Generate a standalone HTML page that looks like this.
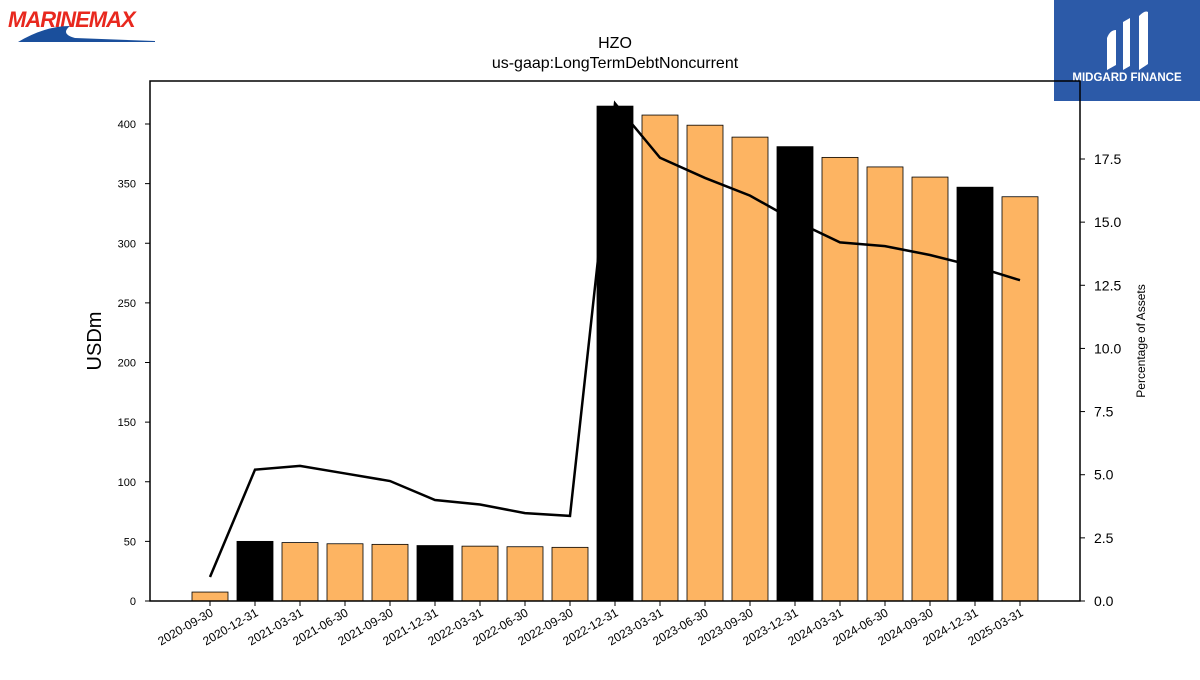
<!DOCTYPE html>
<html><head><meta charset="utf-8"><style>
body{margin:0;background:#fff;width:1200px;height:675px;overflow:hidden;font-family:"Liberation Sans","DejaVu Sans",sans-serif}
</style></head><body>
<svg id="chart" width="1200" height="675" xmlns="http://www.w3.org/2000/svg" font-family="Liberation Sans, DejaVu Sans, sans-serif">
<g>
<text x="8" y="27" font-size="22" font-style="italic" font-weight="bold" fill="#e8281e" letter-spacing="-1">MARINEMAX</text>
<path d="M18,42 Q45,26 70,26 Q60,34 75,38 L155,41 L155,42 Z" fill="#1a4f9c"/>
</g>
<g>
<rect x="1054" y="0" width="146" height="101" fill="#2c5aa8"/>
<path d="M1107,70 L1107,38 Q1110,30 1116,30 L1116,65 Z M1123,70 L1123,22 L1130,18 L1130,66 Z M1139,70 L1139,16 Q1145,10 1148,12 L1148,64 Z" fill="#fff"/>
<text x="1127" y="81" font-size="11.5" font-weight="bold" fill="#fff" text-anchor="middle">MIDGARD FINANCE</text>
</g>
<text x="615" y="48" font-size="16" text-anchor="middle">HZO</text>
<text x="615" y="68" font-size="16" text-anchor="middle">us-gaap:LongTermDebtNoncurrent</text>
<g id="plot"></g>
<text transform="translate(101,341) rotate(-90)" font-size="20" text-anchor="middle">USDm</text>
<text transform="translate(1145,341) rotate(-90)" font-size="12" text-anchor="middle">Percentage of Assets</text>
</svg>
<script>
const categories=["2020-09-30","2020-12-31","2021-03-31","2021-06-30","2021-09-30","2021-12-31","2022-03-31","2022-06-30","2022-09-30","2022-12-31","2023-03-31","2023-06-30","2023-09-30","2023-12-31","2024-03-31","2024-06-30","2024-09-30","2024-12-31","2025-03-31"];
const debtValues=[7.5,50,49,48,47.5,46.5,46,45.5,45,415,407.5,399,389,381,372,364,355.5,347,339];
const pctValues=[0.95,5.2,5.35,5.05,4.75,4.0,3.82,3.48,3.37,19.7,17.55,16.75,16.05,15.05,14.2,14.05,13.7,13.25,12.7];
const leftTicks=[0,50,100,150,200,250,300,350,400];
const rightTicks=[0,2.5,5,7.5,10,12.5,15,17.5];
const L=150,R=1080,T=81,B=601;
const y=v=>B-v*(477/400);
const y2=v=>B-v*(442/17.5);
const x=i=>210+i*45;
const NS="http://www.w3.org/2000/svg";
const plot=document.getElementById('plot');
function mk(t,a,p){const e=document.createElementNS(NS,t);for(const k in a)e.setAttribute(k,a[k]);(p||plot).appendChild(e);return e;}
categories.forEach((c,i)=>{
 const black=c.endsWith('12-31');
 const r=mk('rect',{x:x(i)-18,y:y(debtValues[i]),width:36,height:B-y(debtValues[i]),fill:black?'#000':'#fdb462',stroke:'#000','stroke-width':0.8});
 
 
 const tk=mk('line',{x1:x(i),x2:x(i),y1:B,y2:B+5,stroke:'#000'});
 
 
 const t=mk('text',{transform:`translate(${x(i)+4},${B+14}) rotate(-30)`,'font-size':12,'text-anchor':'end'});
 t.textContent=c;
 
 
});
const pl=mk('polyline',{points:pctValues.map((v,i)=>x(i)+','+y2(v)).join(' '),fill:'none',stroke:'#000','stroke-width':2.5});


leftTicks.forEach(v=>{
 const l=mk('line',{x1:L-5,x2:L,y1:y(v),y2:y(v),stroke:'#000'});
 
 
 const t=mk('text',{x:L-14,y:y(v)+4,'font-size':11,'text-anchor':'end'});
 t.textContent=v;
 
 
});
rightTicks.forEach(v=>{
 const l=mk('line',{x1:R,x2:R+5,y1:y2(v),y2:y2(v),stroke:'#000'});
 
 
 const t=mk('text',{x:R+14,y:y2(v)+5,'font-size':14});
 t.textContent=v.toFixed(1);
 
 
});
const fr=mk('rect',{x:L,y:T,width:R-L,height:B-T,fill:'none',stroke:'#000','stroke-width':1.5});


</script>
</body></html>
